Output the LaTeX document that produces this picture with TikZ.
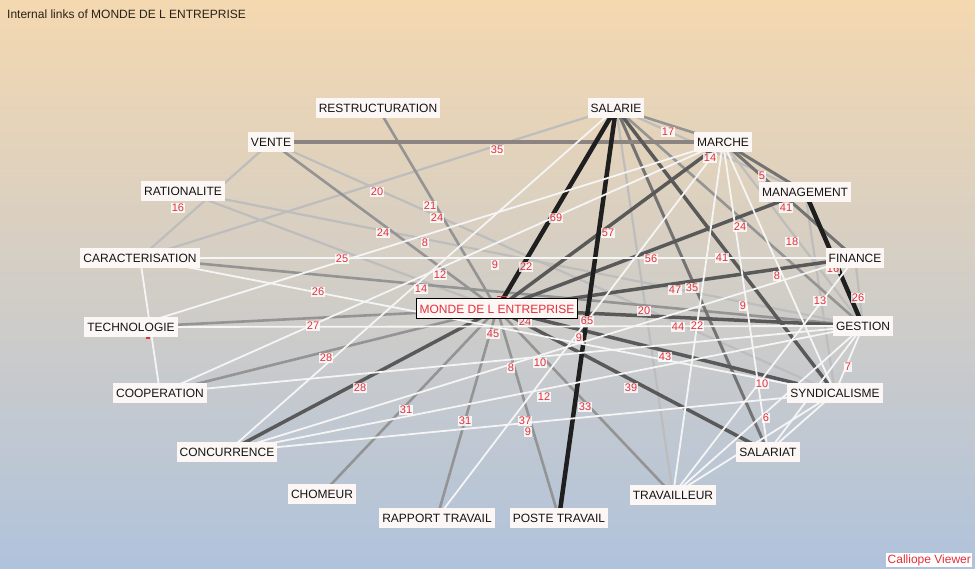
\documentclass[tikz,border=0pt]{standalone}
\usepackage{fontspec}
\setmainfont{Liberation Sans}
\definecolor{bgtop}{RGB}{244,216,176}
\definecolor{bgmid}{RGB}{208,204,198}
\definecolor{bgbot}{RGB}{176,195,220}
\definecolor{ndfill}{RGB}{252,247,245}
\definecolor{lblred}{RGB}{228,48,58}
\definecolor{titlec}{RGB}{40,34,24}
\definecolor{vmcol}{RGB}{140,132,128}
\pgfdeclarelayer{bg}
\pgfdeclarelayer{edges}
\pgfdeclarelayer{lbls}
\pgfsetlayers{bg,edges,lbls,main}
\begin{document}
\begin{tikzpicture}[x=1pt,y=-1pt,
  nd/.style={fill=ndfill, inner xsep=3pt, inner ysep=0pt, minimum height=20pt, text=black!92, font=\fontsize{12}{12}\selectfont},
  lbl/.style={fill=white, fill opacity=0.8, text opacity=1, text=lblred, inner sep=0.8pt, font=\fontsize{11}{11}\selectfont},
  blk/.style={line width=4.5pt, draw=black!88},
  dk/.style={line width=3.5pt, draw=black!65},
  dkm/.style={line width=3pt, draw=black!55},
  md/.style={line width=2.6pt, draw=black!42},
  lt/.style={line width=2.2pt, draw=black!26},
  wt/.style={line width=1.8pt, draw=white!96!black},
  vm/.style={line width=4pt, draw=vmcol},
  frag/.style={fill=lblred}
]
\useasboundingbox (0,0) rectangle (975,569);
\begin{pgfonlayer}{bg}
\shade[top color=bgtop, middle color=bgmid, bottom color=bgbot] (0,0) rectangle (975,569);
\end{pgfonlayer}

% nodes
\node[nd] (R) at (378,108) {RESTRUCTURATION};
\node[nd] (SA) at (616,108) {SALARIE};
\node[nd] (V) at (271,142) {VENTE};
\node[nd] (MA) at (723,142) {MARCHE};
\node[nd] (RA) at (183,191) {RATIONALITE};
\node[nd] (MG) at (805,192) {MANAGEMENT};
\node[nd] (CA) at (140,258) {CARACTERISATION};
\node[nd] (F) at (855,258) {FINANCE};
\node[nd] (T) at (131,327) {TECHNOLOGIE};
\node[nd, draw=black, line width=1pt, text=lblred] (M) at (497,309) {MONDE DE L ENTREPRISE};
\node[nd] (G) at (863,326) {GESTION};
\node[nd] (CO) at (160,393) {COOPERATION};
\node[nd] (SY) at (835,393) {SYNDICALISME};
\node[nd] (CC) at (227,452) {CONCURRENCE};
\node[nd] (SL) at (768,452) {SALARIAT};
\node[nd] (CH) at (322,494) {CHOMEUR};
\node[nd] (TR) at (673,495) {TRAVAILLEUR};
\node[nd] (RT) at (437,518) {RAPPORT TRAVAIL};
\node[nd] (PT) at (559,518) {POSTE TRAVAIL};

\node[anchor=west, inner sep=0pt, text=titlec, font=\fontsize{12}{12}\selectfont] (title) at (7,14) {Internal links of MONDE DE L ENTREPRISE};
\node[anchor=west, fill=white, text=lblred, inner sep=1.5pt, font=\fontsize{12}{12}\selectfont] (cal) at (886,560) {Calliope Viewer};

% edges
\begin{pgfonlayer}{edges}
% light
\draw[lt] (CA.center) -- (SA.center);
\draw[lt] (SA.center) -- (MG.center);
\draw[lt] (RA.center) -- (M.center);
\draw[lt] (RA.center) -- (G.center);
\draw[lt] (V.center) -- (CA.center);
\draw[lt] (V.center) -- (SY.center);
\draw[lt] (MA.center) -- (G.center);
\draw[lt] (MG.center) -- (SY.center);
\draw[lt] (F.center) -- (G.center);
\draw[lt] (SA.center) -- (TR.center);
% medium
\draw[md] (R.center) -- (M.center);
\draw[md] (V.center) -- (M.center);
\draw[md] (T.center) -- (M.center);
\draw[md] (CO.center) -- (M.center);
\draw[md] (CH.center) -- (M.center);
\draw[md] (RT.center) -- (M.center);
\draw[md] (PT.center) -- (M.center);
\draw[md] (M.center) -- (TR.center);
\draw[md] (SA.center) -- (MA.center);
\draw[md] (SA.center) -- (G.center);
\draw[md] (CA.center) -- (G.center);
% dark-ish
\draw[dkm] (SA.center) -- (SL.center);
\draw[dkm] (MA.center) -- (F.center);
\draw[dkm] (MA.center) -- (MG.center);
\draw[vm] (V.center) -- (MA.center);
% dark
\draw[dk] (M.center) -- (CC.center);
\draw[dk] (M.center) -- (MG.center);
\draw[dk] (M.center) -- (F.center);
\draw[dk] (M.center) -- (MA.center);
\draw[dk] (M.center) -- (G.center);
\draw[dk] (M.center) -- (SL.center);
\draw[dk] (M.center) -- (SY.center);
\draw[dk] (SA.center) -- (SY.center);
% black
\draw[blk] (SA.center) -- (M.center);
\draw[blk] (SA.center) -- (PT.center);
\draw[blk] (MG.center) -- (G.center);
% white
\draw[wt] (CA.center) -- (F.center);
\draw[wt] (T.center) -- (G.center);
\draw[wt] (CA.center) -- (CO.center);
\draw[wt] (CA.center) -- (SY.center);
\draw[wt] (T.center) -- (MA.center);
\draw[wt] (CO.center) -- (MA.center);
\draw[wt] (CC.center) -- (SA.center);
\draw[wt] (CC.center) -- (F.center);
\draw[wt] (CO.center) -- (G.center);
\draw[wt] (CC.center) -- (G.center);
\draw[wt] (CC.center) -- (SY.center);
\draw[wt] (RT.center) -- (MA.center);
\draw[wt] (MA.center) -- (SL.center);
\draw[wt] (MA.center) -- (TR.center);
\draw[wt] (MA.center) -- (SY.center);
\draw[wt] (F.center) -- (TR.center);
\draw[wt] (G.center) -- (SY.center);
\draw[wt] (G.center) -- (TR.center);
\draw[wt] (G.center) -- (SL.center);
\draw[wt] (SY.center) -- (TR.center);
\draw[wt] (SY.center) -- (SL.center);
\end{pgfonlayer}

% edge labels
\begin{pgfonlayer}{lbls}
\node[lbl] (l01) at (668,132) {17};
\node[lbl] (l02) at (497,150) {35};
\node[lbl] (l03) at (710,158) {14};
\node[lbl] (l04) at (762,176) {5};
\node[lbl] (l05) at (377,192) {20};
\node[lbl] (l06) at (178,208) {16};
\node[lbl] (l07) at (786,208) {41};
\node[lbl] (l08) at (430,206) {21};
\node[lbl] (l09) at (437,218) {24};
\node[lbl] (l10) at (383,233) {24};
\node[lbl] (l11) at (425,243) {8};
\node[lbl] (l12) at (556,218) {69};
\node[lbl] (l13) at (608,233) {57};
\node[lbl] (l14) at (740,227) {24};
\node[lbl] (l15) at (792,242) {18};
\node[lbl] (l16) at (342,259) {25};
\node[lbl] (l17) at (495,265) {9};
\node[lbl] (l18) at (526,267) {22};
\node[lbl] (l19) at (651,259) {56};
\node[lbl] (l20) at (722,258) {41};
\node[lbl] (l21) at (777,276) {8};
\node[lbl] (l22) at (833,269) {16};
\node[lbl] (l23) at (318,292) {26};
\node[lbl] (l24) at (440,275) {12};
\node[lbl] (l25) at (421,289) {14};
\node[lbl] (l26) at (675,290) {47};
\node[lbl] (l27) at (692,288) {35};
\node[lbl] (l28) at (820,301) {13};
\node[lbl] (l29) at (858,298) {26};
\node[lbl] (l30) at (313,326) {27};
\node[lbl] (l31) at (644,311) {20};
\node[lbl] (l32) at (743,306) {9};
\node[lbl] (l33) at (525,322) {24};
\node[lbl] (l34) at (587,321) {65};
\node[lbl] (l35) at (678,327) {44};
\node[lbl] (l36) at (697,326) {22};
\node[lbl] (l37) at (493,334) {45};
\node[lbl] (l38) at (579,338) {9};
\node[lbl] (l39) at (326,358) {28};
\node[lbl] (l40) at (540,363) {10};
\node[lbl] (l41) at (511,368) {8};
\node[lbl] (l42) at (665,357) {43};
\node[lbl] (l43) at (848,367) {7};
\node[lbl] (l44) at (360,388) {28};
\node[lbl] (l45) at (631,388) {39};
\node[lbl] (l46) at (762,384) {10};
\node[lbl] (l47) at (544,397) {12};
\node[lbl] (l48) at (406,410) {31};
\node[lbl] (l49) at (585,407) {33};
\node[lbl] (l50) at (766,418) {6};
\node[lbl] (l51) at (465,421) {31};
\node[lbl] (l52) at (525,421) {37};
\node[lbl] (l53) at (528,432) {9};
% fragments of labels hidden behind node boxes
\fill[frag] (146,337.5) rectangle (150,339);
\fill[frag] (497,296) rectangle (507,297.5);
\end{pgfonlayer}
\end{tikzpicture}
\end{document}
